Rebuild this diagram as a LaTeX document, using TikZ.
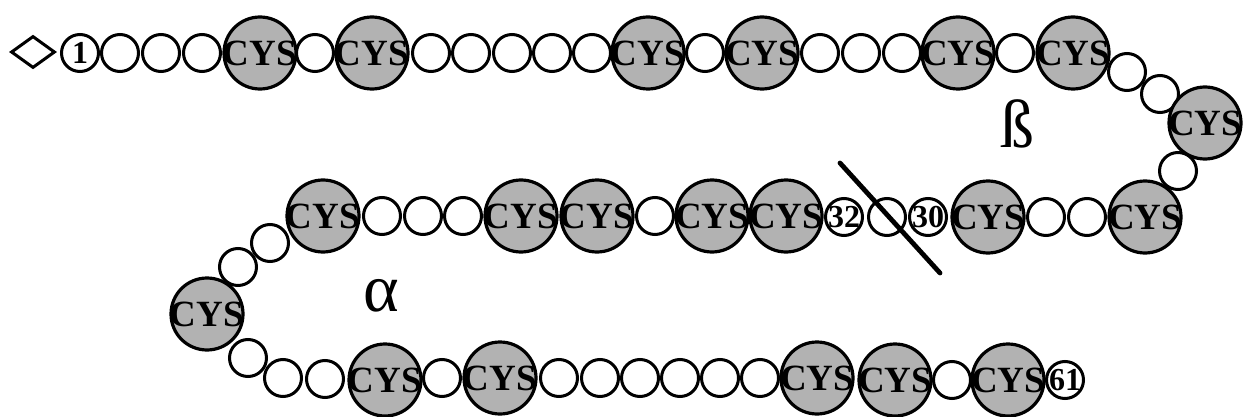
\documentclass[tikz,border=0pt]{standalone}
\usepackage{fontspec}
\setmainfont{Liberation Serif}
\usetikzlibrary{shapes.geometric,calc}

\tikzset{
  res/.style={circle, draw=black, line width=3pt, fill=white, inner sep=0pt, minimum size=37pt},
  cysres/.style={circle, draw=black, line width=3.2pt, fill=black!30, inner sep=0pt, minimum size=72pt,
    font=\fontsize{37}{37}\selectfont\bfseries},
  numres/.style={res, font=\fontsize{32}{32}\selectfont\bfseries},
  greek/.style={inner sep=0pt, font=\fontsize{68}{68}\selectfont},
  cut/.style={line width=4.8pt, line cap=round}
}
\newcommand{\cysname}{\makebox[0pt]{CYS}}
\newcommand{\resnum}[1]{\makebox[0pt]{#1}}

\begin{document}
\begin{tikzpicture}[x=1pt,y=-1pt]
\useasboundingbox (0,0) rectangle (1244,417);

% N-terminal blocking group
\node[diamond, draw=black, line width=3pt, fill=white, inner sep=0pt,
      minimum width=44pt, minimum height=32pt] (nterm) at (33,52) {};

% plain residues: number / x / y
\foreach \n/\x/\y in {
   2/120/53, 3/161/53, 4/202/53, 6/315/53,
   8/431/53, 9/471/53, 10/512/53, 11/552/53, 12/592/53, 14/705/53,
   16/820/53, 17/861/53, 18/902/53, 20/1015/53,
   22/1127/72, 23/1160/94, 25/1178/171,
   27/1087/217, 28/1046/217, 31/887/217, 35/655/216,
   38/463/216, 39/423/216, 40/382/216,
   42/270/243, 43/238/267, 45/248/358, 46/283/378, 47/325/379,
   49/442/378, 51/559/378, 52/600/378, 53/640/378, 54/680/378,
   55/720/378, 56/760/378, 59/952/380}
  \node[res] (r\n) at (\x,\y) {};

% cysteine residues
\foreach \n/\x/\y in {
   5/260/53, 7/372/53, 13/648/53, 15/762/53, 19/958/53, 21/1073/53,
   24/1205/123, 26/1145/217, 29/988/217, 33/786/216, 34/712/216,
   36/597/216, 37/521/216, 41/323/216, 44/207/314, 48/385/380,
   50/500/378, 57/817/378, 58/895/380, 60/1008/380}
  \node[cysres] (r\n) at (\x,\y) {\cysname};

% numbered residues
\node[numres] (r1)  at (80,53)   {\resnum{1}};
\node[numres] (r30) at (928,217) {\resnum{30}};
\node[numres] (r32) at (844,217) {\resnum{32}};
\node[numres] (r61) at (1065,380) {\resnum{61}};

% cleavage mark across residue 31
\coordinate (cut-a) at ($(r31)+(-47,-54)$);
\coordinate (cut-b) at ($(r31)+(53,56)$);
\draw[cut] (cut-a) -- (cut-b);

% chain labels
\node[greek] (beta)  at (1017,124) {ß};
\node[greek] (alpha) at (381,296) {α};
\end{tikzpicture}
\end{document}
